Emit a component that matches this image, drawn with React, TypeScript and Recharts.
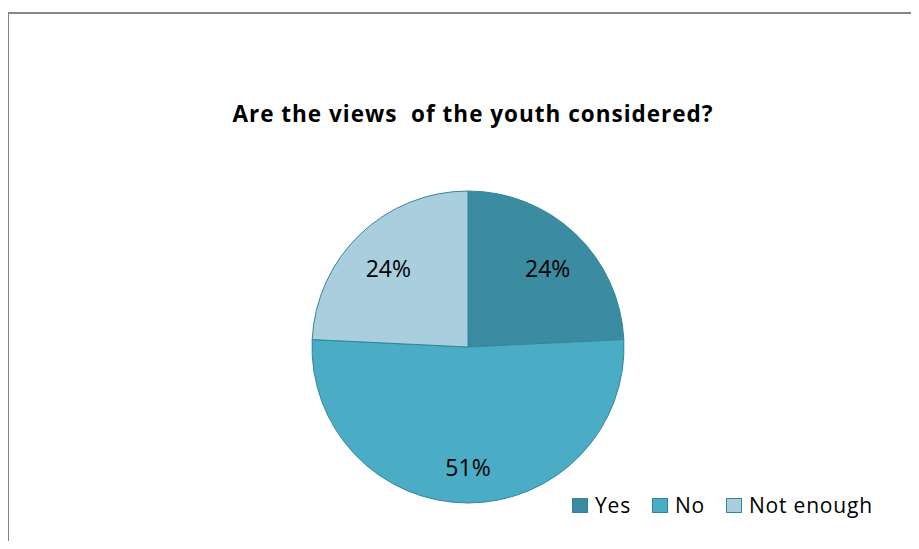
import React from 'react';
import { PieChart, Pie, Cell, Legend } from 'recharts';

const categories = ['Yes', 'No', 'Not enough'];
const shares = [24, 51, 24];
const sliceColors = ['#3B8BA1', '#4BACC6', '#A9CEDE'];

const chartData = categories.map((name, i) => ({ name, value: shares[i] }));

const FONT = '"Open Sans", Lato, sans-serif';
const RAD = Math.PI / 180;

function renderLabel(props: any) {
  const { cx, cy, midAngle, outerRadius, value } = props;
  const r = outerRadius * 0.74;
  const x = cx + r * Math.cos(-midAngle * RAD);
  const y = cy + r * Math.sin(-midAngle * RAD) + 4.5;
  return (
    <text x={x} y={y} fill="#000" fontSize={23} fontFamily={FONT} textAnchor="middle" dominantBaseline="central">
      {value}%
    </text>
  );
}

function renderLegend() {
  return (
    <div style={{ display: 'flex', alignItems: 'center', fontFamily: FONT, fontSize: 21, letterSpacing: 0.8 }}>
      {categories.map((name, i) => (
        <div key={name} style={{ display: 'flex', alignItems: 'center', marginRight: 21 }}>
          <span
            style={{
              display: 'inline-block',
              boxSizing: 'border-box',
              width: 16,
              height: 15,
              background: sliceColors[i],
              border: '1px solid #31859C',
              marginRight: 7,
            }}
          />
          <span style={{ color: '#000' }}>{name}</span>
        </div>
      ))}
    </div>
  );
}

export default function App() {
  return (
    <div style={{ position: 'relative', width: 919, height: 549, margin: -8, background: '#fff', overflow: 'hidden' }}>
      <div
        style={{
          position: 'absolute',
          left: 7,
          top: 12,
          width: 940,
          height: 600,
          borderLeft: '2px solid #878787',
          borderTop: '2px solid #878787',
        }}
      />
      <div
        style={{
          position: 'absolute',
          top: 98,
          left: 0,
          width: 946,
          textAlign: 'center',
          fontFamily: FONT,
          fontWeight: 'bold',
          fontSize: 22.5,
          letterSpacing: 1,
          whiteSpace: 'pre',
        }}
      >
        {'Are the views  of the youth considered?'}
      </div>
      <PieChart
        width={919}
        height={549}
        margin={{ top: 0, right: 0, bottom: 0, left: 0 }}
        style={{ position: 'absolute', left: 0, top: 0 }}
      >
        <Pie
          data={chartData}
          dataKey="value"
          nameKey="name"
          cx={468}
          cy={347}
          outerRadius={156}
          startAngle={90}
          endAngle={-270}
          stroke="#31859C"
          strokeWidth={1}
          label={renderLabel}
          labelLine={false}
          isAnimationActive={false}
        >
          {chartData.map((d, i) => (
            <Cell key={d.name} fill={sliceColors[i]} />
          ))}
        </Pie>
        <Legend
          content={renderLegend}
          wrapperStyle={{ position: 'absolute', left: 572, top: 491, width: 340 }}
        />
      </PieChart>
    </div>
  );
}
